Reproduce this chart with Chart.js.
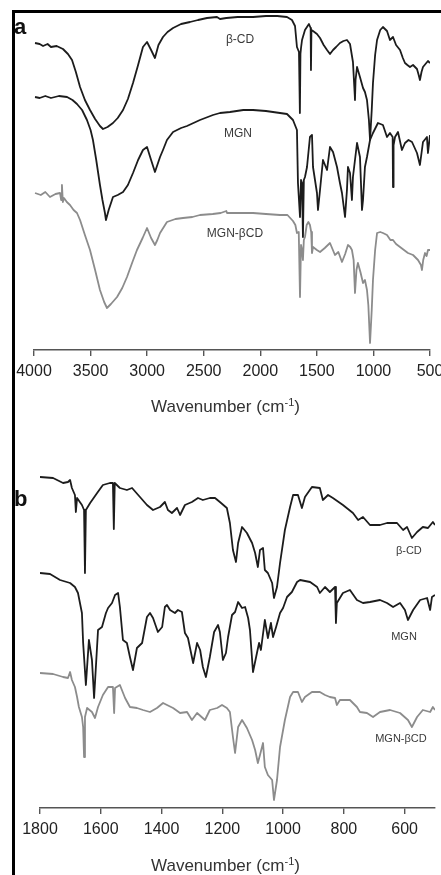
<!DOCTYPE html>
<html>
<head>
<meta charset="utf-8">
<script src="https://cdn.jsdelivr.net/npm/chart.js@4.4.1/dist/chart.umd.min.js"></script>
<style>
  html, body { margin:0; padding:0; background:#fff; }
  body { width:441px; height:875px; overflow:hidden; position:relative; font-family:"Liberation Sans", Arial, sans-serif; }
  canvas { position:absolute; left:0; }
  #ca { top:0; }
  #cb { top:430px; }
  .frameL { position:absolute; left:12px; top:10px; width:2.5px; height:865px; background:#000; z-index:5; }
  .frameT { position:absolute; left:12px; top:10px; width:429px; height:2.5px; background:#000; z-index:5; }
  .letter { position:absolute; font-weight:bold; font-size:22px; line-height:22px; color:#111; z-index:6; }
  .xtitle { position:absolute; left:0; width:451px; text-align:center; font-size:17px; line-height:20px; color:#333; z-index:6; }
  .xtitle sup { font-size:11px; vertical-align:6px; line-height:0; }
</style>
</head>
<body>
<div class="frameL"></div>
<div class="frameT"></div>
<div class="letter" style="left:14px;top:16px;">a</div>
<div class="letter" style="left:14px;top:488px;">b</div>
<canvas id="ca" width="460" height="400"></canvas>
<canvas id="cb" width="460" height="420"></canvas>
<div class="xtitle" style="top:397px;">Wavenumber (cm<sup>-1</sup>)</div>
<div class="xtitle" style="top:856px;">Wavenumber (cm<sup>-1</sup>)</div>
<script>
// ---------- Panel a: 4000-500 cm-1 (transmittance, arbitrary offset units) ----------
const aCdX = [3991,3950,3920,3880,3850,3800,3744,3700,3664,3630,3593,3550,3505,3460,3417,3390,3350,3302,3260,3213,3170,3125,3080,3037,3001,2965,2931,2900,2860,2820,2771,2700,2621,2550,2471,2383,2356,2300,2200,2064,1950,1850,1764,1720,1693,1676,1658,1650,1645,1640,1631,1605,1570,1555,1552,1548,1534,1499,1472,1440,1410,1384,1357,1330,1296,1265,1234,1207,1181,1165,1163,1158,1145,1119,1092,1075,1057,1040,1030,1015,1004,985,968,940,916,880,854,827,800,765,740,721,700,677,650,615,600,589,575,562,540,518,500];
const aCdY = [307,306,304,306,303,304,301,296,290,278,263,250,240,231,224,221,223,227,232,240,251,267,285,303,308,300,292,305,313,318,322,326,328,330,332,333,331,332,333,333,334,334,333,330,324,303,298,237,296,302,310,320,326,322,280,320,319,316,312,305,300,296,300,303,307,309,310,306,288,255,250,270,283,273,262,258,250,230,210,240,267,295,310,320,323,319,310,313,305,300,292,287,285,283,285,281,275,270,278,283,286,289,287];

const aMgnX = [3991,3950,3900,3850,3780,3708,3660,3620,3575,3532,3500,3479,3450,3417,3395,3373,3364,3340,3302,3260,3213,3170,3125,3080,3037,3001,2965,2931,2910,2886,2860,2825,2771,2700,2648,2533,2418,2356,2268,2150,2064,1950,1826,1764,1711,1676,1667,1649,1640,1631,1623,1615,1605,1587,1561,1543,1534,1499,1490,1472,1446,1410,1384,1357,1322,1296,1278,1251,1234,1225,1207,1190,1181,1145,1119,1101,1092,1075,1057,1030,1004,960,916,880,854,830,827,822,809,783,748,721,690,659,615,589,562,527,518,500];
const aMgnY = [253,252,254,252,254,253,250,246,240,230,220,210,190,165,150,137,130,140,153,155,158,165,177,190,200,203,190,178,185,193,200,210,218,222,224,230,235,237,238,240,240,239,237,236,230,220,167,133,170,167,113,170,173,183,213,215,183,157,140,160,190,180,203,198,183,167,157,133,160,183,177,150,173,207,193,140,150,183,193,210,217,227,225,213,217,213,163,205,213,218,200,207,210,208,197,185,208,213,197,215];

const aIncX = [3991,3940,3900,3859,3810,3770,3760,3753,3745,3735,3710,3682,3650,3620,3593,3550,3505,3460,3417,3380,3355,3320,3266,3220,3178,3130,3090,3040,3001,2965,2931,2910,2886,2825,2750,2683,2600,2533,2420,2350,2300,2294,2200,2064,1950,1826,1760,1711,1690,1676,1660,1649,1640,1631,1623,1615,1605,1590,1575,1561,1550,1543,1534,1500,1472,1430,1384,1340,1310,1278,1250,1225,1205,1190,1175,1163,1150,1137,1115,1092,1075,1057,1045,1030,1015,1004,985,968,940,916,880,850,827,800,765,730,695,650,606,580,571,560,544,530,518,500];
const aIncY = [157,155,158,153,156,157,150,165,148,152,148,145,140,137,130,115,100,80,60,48,42,46,53,62,73,88,100,112,122,112,105,110,117,128,131,132,133,135,136,137,139,137,137,137,136,135,135,129,125,117,118,53,105,100,90,110,113,125,128,125,118,97,103,100,98,102,107,95,98,88,96,105,103,100,90,57,80,87,78,67,70,60,45,7,40,70,100,117,118,117,115,110,110,106,103,100,97,95,90,85,80,90,97,94,100,100];

const aTicks = [4000,3500,3000,2500,2000,1500,1000,500];
const aLabelText = ["β-CD", "MGN", "MGN-βCD"];
const aLabelX = [2179, 2197, 2224];
const aLabelY = [310, 216, 116];

// ---------- Panel b: 1800-500 cm-1 ----------
const bCdX = [1800,1757,1724,1708,1701,1695,1685,1682,1678,1662,1655,1652,1649,1635,1612,1593,1570,1560,1557,1554,1537,1514,1497,1471,1448,1428,1405,1389,1379,1366,1349,1339,1323,1300,1280,1264,1241,1224,1208,1185,1175,1165,1155,1148,1135,1119,1102,1092,1083,1076,1066,1060,1050,1036,1030,1020,1010,994,977,967,951,938,928,905,879,869,852,836,803,770,753,737,714,681,658,625,605,592,576,559,540,523,507,500];
const bCdY = [331,330,325,326,328,320,313,296,310,303,298,235,298,305,315,323,325,325,279,325,320,318,320,311,303,298,301,306,298,295,300,293,303,306,310,308,310,310,306,300,285,258,246,265,281,275,265,255,241,258,260,238,235,225,210,221,245,278,301,313,313,300,311,321,320,308,313,310,303,295,288,291,283,283,285,285,278,281,270,276,281,280,286,283];

const bMgnX = [1800,1767,1734,1701,1685,1675,1662,1658,1649,1639,1629,1622,1609,1596,1583,1576,1563,1553,1543,1537,1527,1514,1504,1494,1481,1464,1448,1438,1428,1412,1398,1389,1382,1372,1356,1346,1333,1323,1313,1296,1283,1273,1264,1254,1241,1227,1214,1208,1198,1188,1181,1168,1158,1148,1135,1125,1115,1109,1099,1086,1079,1073,1060,1050,1040,1033,1023,1010,1000,987,971,954,944,911,888,879,862,846,829,826,823,803,780,757,737,714,681,658,638,615,599,589,572,549,526,516,510,500];
const bMgnY = [235,234,228,225,221,215,195,165,123,168,148,110,178,181,195,200,205,213,215,201,168,165,151,138,160,165,191,195,190,176,181,201,203,198,195,198,196,175,170,145,165,158,141,131,151,176,183,176,148,155,171,193,196,206,200,201,190,178,136,155,165,158,188,170,185,171,181,195,200,211,216,226,228,226,221,215,221,216,221,185,205,215,218,208,205,206,208,205,201,205,198,188,198,208,210,198,211,213];

const bIncX = [1800,1757,1724,1708,1701,1695,1685,1678,1672,1662,1658,1655,1652,1645,1629,1619,1609,1593,1576,1560,1556,1553,1537,1520,1504,1481,1461,1438,1415,1395,1382,1362,1339,1316,1300,1283,1257,1241,1217,1201,1185,1175,1165,1158,1148,1135,1119,1102,1092,1083,1076,1066,1060,1050,1036,1030,1020,1010,994,977,967,951,938,928,905,879,862,846,829,823,813,780,757,747,724,704,681,648,615,589,576,559,540,516,507,500];
const bIncY = [135,134,131,130,136,128,121,111,101,91,81,51,91,100,96,90,101,113,121,121,95,120,123,110,101,100,98,96,100,105,103,100,95,96,88,95,88,98,100,103,100,96,71,55,81,88,80,68,58,45,53,65,41,33,28,8,28,61,88,111,116,116,106,111,116,116,113,111,110,103,108,108,101,96,95,91,96,98,95,88,81,91,98,96,101,98];

const bTicks = [1800,1600,1400,1200,1000,800,600];
const bLabelText = ["β-CD", "MGN", "MGN-βCD"];
const bLabelX = [586, 602, 612];
const bLabelY = [257, 171, 69];

// ---------- helpers ----------
const BLACK = "#1c1c1c";
const GREY = "#8c8c8c";
function pts(xs, ys) { return xs.map((v, i) => ({x: v, y: ys[i]})); }

const curveLabels = {
  id: "curveLabels",
  afterDatasetsDraw(chart, args, opts) {
    const {ctx} = chart;
    const xs = chart.scales.x, ys = chart.scales.y;
    ctx.save();
    ctx.font = opts.font;
    ctx.fillStyle = opts.color;
    ctx.textAlign = "center";
    ctx.textBaseline = "middle";
    opts.text.forEach((t, i) => {
      ctx.fillText(t, xs.getPixelForValue(opts.xv[i]), ys.getPixelForValue(opts.yv[i]));
    });
    ctx.restore();
  }
};

function makeChart(id, sets, xmin, xmax, ymax, axisH, pad, tickList, lab, labFont) {
  return new Chart(document.getElementById(id), {
    type: "line",
    data: {
      datasets: sets.map(s => ({
        label: s.name, data: s.data, borderColor: s.color, borderWidth: 1.8,
        pointRadius: 0, tension: 0, fill: false, borderJoinStyle: "round"
      }))
    },
    options: {
      responsive: false, animation: false, devicePixelRatio: 1,
      layout: { padding: pad },
      plugins: {
        legend: { display: false }, tooltip: { enabled: false },
        curveLabels: { text: lab.text, xv: lab.x, yv: lab.y, font: labFont, color: "#3a3a3a" }
      },
      scales: {
        x: {
          type: "linear", reverse: true, min: xmin, max: xmax,
          afterFit(scale) { scale.height = axisH; },
          afterBuildTicks(scale) { scale.ticks = tickList.map(v => ({value: v})); },
          ticks: { autoSkip: false, maxRotation: 0, padding: 6, color: "#222",
                   font: { family: "'Liberation Sans', Arial, sans-serif", size: 16 },
                   callback: v => String(v) },
          grid: { drawOnChartArea: false, drawTicks: true, tickLength: 6, color: "#555", lineWidth: 1.4 },
          border: { display: true, color: "#555", width: 1.5 }
        },
        y: { display: false, min: 0, max: ymax }
      }
    },
    plugins: [curveLabels]
  });
}

makeChart("ca", [
  {name: "β-CD", data: pts(aCdX, aCdY), color: BLACK},
  {name: "MGN", data: pts(aMgnX, aMgnY), color: BLACK},
  {name: "MGN-βCD", data: pts(aIncX, aIncY), color: GREY}
], 500, 4000, 340, 50, {left: 34, right: 30, top: 10, bottom: 0}, aTicks,
  {text: aLabelText, x: aLabelX, y: aLabelY}, "12px 'Liberation Sans', Arial, sans-serif");

makeChart("cb", [
  {name: "β-CD", data: pts(bCdX, bCdY), color: BLACK},
  {name: "MGN", data: pts(bMgnX, bMgnY), color: BLACK},
  {name: "MGN-βCD", data: pts(bIncX, bIncY), color: GREY}
], 500, 1800, 368, 42, {left: 40, right: 25, top: 10, bottom: 0}, bTicks,
  {text: bLabelText, x: bLabelX, y: bLabelY}, "11px 'Liberation Sans', Arial, sans-serif");
</script>
</body>
</html>
